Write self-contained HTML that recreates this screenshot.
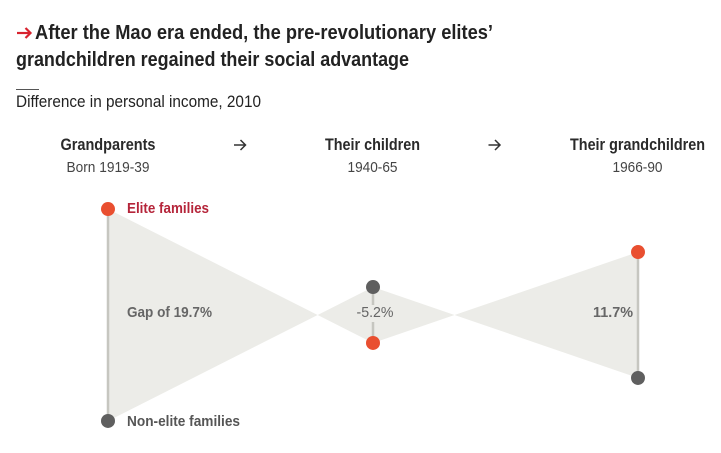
<!DOCTYPE html>
<html lang="en">
<head>
<meta charset="utf-8">
<title>Elite grandchildren chart</title>
<style>
html,body{margin:0;padding:0;background:#fff;}
svg{display:block;font-family:"Liberation Sans",sans-serif;}
</style>
</head>
<body>
<svg id="chart" width="721" height="453" viewBox="0 0 721 453" xmlns="http://www.w3.org/2000/svg">
  <g id="header">
    <g fill="none" stroke="#d8232f" stroke-width="2.2">
      <path d="M17 33H30"/>
      <path d="M25.5 28L30.5 33L25.5 38"/>
    </g>
    <text x="35" y="39" font-size="20" font-weight="700" fill="#222" textLength="458" lengthAdjust="spacingAndGlyphs">After the Mao era ended, the pre-revolutionary elites’</text>
    <text x="16" y="66" font-size="20" font-weight="700" fill="#222" textLength="393" lengthAdjust="spacingAndGlyphs">grandchildren regained their social advantage</text>
    <rect x="16" y="89" width="23" height="1" fill="#555"/>
    <text x="16" y="107" font-size="16.5" fill="#222" textLength="245" lengthAdjust="spacingAndGlyphs">Difference in personal income, 2010</text>
  </g>
  <g id="plot"></g>
  <g id="headers"></g>
</svg>
<script>
const generations = ['Grandparents', 'Their children', 'Their grandchildren'];
const birthYears = ['Born 1919-39', '1940-65', '1966-90'];
const gapValues = [19.7, -5.2, 11.7];
const gapLabels = ['Gap of 19.7%', '-5.2%', '11.7%'];
const seriesLabels = ['Elite families', 'Non-elite families'];

const SVGNS = 'http://www.w3.org/2000/svg';
const plot = document.getElementById('plot');
const headers = document.getElementById('headers');

function xAxis(i) { return 108 + i * 265; }
function yAxis(v) { return 315 - v * 10.76; }
function make(tag, attrs, parent, text) {
  const el = document.createElementNS(SVGNS, tag);
  for (const k in attrs) el.setAttribute(k, attrs[k]);
  if (text !== undefined) el.textContent = text;
  parent.appendChild(el);
  return el;
}

/* gap ribbon between the elite and non-elite lines */
function crossing(i) {
  const a = gapValues[i], b = gapValues[i + 1];
  if (a * b >= 0) return null;
  return xAxis(i) + (xAxis(i + 1) - xAxis(i)) * a / (a - b);
}
const upper = [], lower = [];
gapValues.forEach(function (g, i) {
  upper.push(xAxis(i) + ',' + yAxis(g / 2));
  lower.unshift(xAxis(i) + ',' + yAxis(-g / 2));
  if (i < gapValues.length - 1) {
    const c = crossing(i);
    if (c !== null) {
      upper.push(c + ',' + yAxis(0));
      lower.unshift(c + ',' + yAxis(0));
    }
  }
});
const ribbon = make('polygon', { points: upper.concat(lower).join(' '), fill: '#ecece8' }, plot);



/* connector lines */
gapValues.forEach(function (g, i) {
  const line = make('line', {
    x1: xAxis(i), x2: xAxis(i),
    y1: yAxis(g / 2), y2: yAxis(-g / 2),
    stroke: '#c6c6c0', 'stroke-width': 2.5
  }, plot);
  
  
});

/* gap labels */
gapValues.forEach(function (g, i) {
  const lx = i === 0 ? xAxis(i) + 19 : i === 1 ? xAxis(i) + 2 : xAxis(i) - 5;
  const anchor = i === 0 ? 'start' : i === 1 ? 'middle' : 'end';
  if (i === 1) {
    const bg = make('rect', {
      x: xAxis(i) - 4, y: yAxis(0) - 10, width: 8, height: 17, fill: '#ecece8'
    }, plot);
    
    
  }
  const widths = [85, 37, 40];
  const label = make('text', {
    x: lx, y: yAxis(0) + 2, 'font-size': 15, 'font-weight': i === 1 ? 400 : 700,
    fill: '#666', 'text-anchor': anchor,
    textLength: widths[i], lengthAdjust: 'spacingAndGlyphs'
  }, plot, gapLabels[i]);
  
  
});

/* points */
gapValues.forEach(function (g, i) {
  const elite = make('circle', { cx: xAxis(i), cy: yAxis(g / 2), r: 7, fill: '#e94f30' }, plot);
  
  
  const non = make('circle', { cx: xAxis(i), cy: yAxis(-g / 2), r: 7, fill: '#5f5f5f' }, plot);
  
  
});

/* series labels */
const eliteLabel = make('text', {
  x: xAxis(0) + 19, y: yAxis(gapValues[0] / 2) + 4, 'font-size': 15, 'font-weight': 700,
  fill: '#b5253a', textLength: 82, lengthAdjust: 'spacingAndGlyphs'
}, plot, seriesLabels[0]);


const nonLabel = make('text', {
  x: xAxis(0) + 19, y: yAxis(-gapValues[0] / 2) + 5, 'font-size': 15, 'font-weight': 700,
  fill: '#555', textLength: 113, lengthAdjust: 'spacingAndGlyphs'
}, plot, seriesLabels[1]);



/* column headers */
const headCentres = [108, 372.5, 637.5];
const headWidths = [95, 95, 135];
const subWidths = [83, 50, 50];
generations.forEach(function (name, i) {
  const h = make('text', {
    x: headCentres[i], y: 150, 'font-size': 16.5, 'font-weight': 700, fill: '#2a2a2a',
    'text-anchor': 'middle', textLength: headWidths[i], lengthAdjust: 'spacingAndGlyphs'
  }, headers, name);
  
  
  const s = make('text', {
    x: headCentres[i], y: 172, 'font-size': 15, fill: '#444',
    'text-anchor': 'middle', textLength: subWidths[i], lengthAdjust: 'spacingAndGlyphs'
  }, headers, birthYears[i]);
  
  
});

/* arrows between the column headers */
[0, 1].forEach(function (i) {
  const cx = i === 0 ? 240 : 494.5;
  const arrow = make('path', {
    d: 'M' + (cx - 6) + ' 145H' + (cx + 5.5) + 'M' + (cx + 0.5) + ' 140L' + (cx + 5.5) + ' 145L' + (cx + 0.5) + ' 150',
    fill: 'none', stroke: '#333', 'stroke-width': 1.5
  }, headers);
  
  
});
</script>
</body>
</html>
